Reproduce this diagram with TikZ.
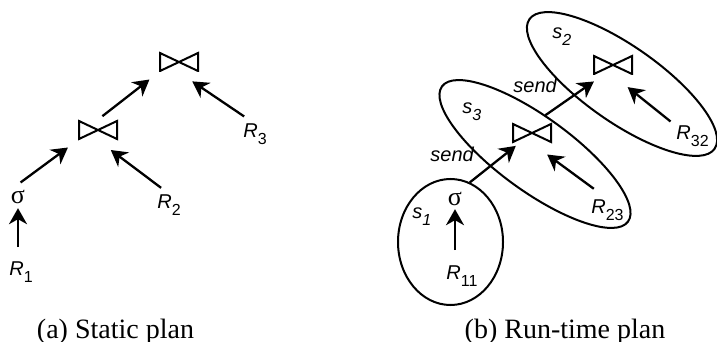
\documentclass[tikz,border=0pt]{standalone}
\usepackage{fontspec}
\setmainfont{Liberation Serif}
\newfontfamily\arialfont{Liberation Sans}
\usetikzlibrary{arrows.meta,shapes.geometric}

\newcommand{\rel}[1]{\textit{R}\raisebox{-3.5pt}{\footnotesize#1}}
\newcommand{\site}[1]{\textit{s}\raisebox{-3.5pt}{\footnotesize\itshape#1}}

\begin{document}
\begin{tikzpicture}[x=0.5pt,y=-0.5pt,
  lab/.style={font=\arialfont\fontsize{10}{12}\selectfont,inner sep=0,anchor=base west},
  sel/.style={font=\fontsize{13}{15}\selectfont,inner sep=0},
  subcap/.style={font=\fontsize{14}{16}\selectfont,inner sep=0,anchor=base},
  bowtie/.style={minimum width=20pt,minimum height=10pt,inner sep=0,
    path picture={\draw[line width=1pt]
      ([shift={(0.5pt,-0.5pt)}]path picture bounding box.north west)
      -- ([shift={(-0.5pt,0.5pt)}]path picture bounding box.south east)
      -- ([shift={(-0.5pt,-0.5pt)}]path picture bounding box.north east)
      -- ([shift={(0.5pt,0.5pt)}]path picture bounding box.south west) -- cycle;}},
  region/.style={draw,ellipse,line width=1pt,inner sep=0},
  arr/.style={-{Stealth[length=8pt,width=9pt,inset=2.5pt]},line width=1.15pt}]
\useasboundingbox (0,0) rectangle (717,342);

% (a) static plan
\node[bowtie] (j2) at (179,62) {};
\node[bowtie] (j1) at (98,130) {};
\node[sel] (sig1) at (18,197) {σ};
\node[lab] (R1) at (9,275) {\rel{1}};
\node[lab] (R2) at (157,208) {\rel{2}};
\node[lab] (R3) at (243,138) {\rel{3}};
\draw[arr,shorten <=6.8pt,shorten >=2pt] (R1.north -| sig1.south) -- (sig1.south);
\draw[arr,shorten <=6.2pt,shorten >=6pt] (sig1.north west) -- (j1.south west);
\draw[arr,shorten <=5pt,shorten >=8pt] (R2.north) -- (j1.south);
\draw[arr,shorten <=2.8pt,shorten >=5.8pt] (j1.north) -- (j2.south west);
\draw[arr,shorten <=6.6pt,shorten >=8pt] (R3.north) -- (j2.south);
\node[subcap] (capa) at (115.5,338) {(a) Static plan};

% (b) run-time plan
\node[region,minimum width=52.5pt,minimum height=63pt] (s1box) at (450.5,242) {};
\node[region,rotate=-36,minimum width=115pt,minimum height=37pt] (s3box) at (535,154) {};
\node[region,rotate=-35,minimum width=113pt,minimum height=38pt] (s2box) at (622,84) {};
\node[bowtie] (J2) at (613,65) {};
\node[bowtie] (J1) at (532,133) {};
\node[sel] (sig2) at (455,199) {σ};
\node[lab] (R11) at (446,279) {\rel{11}};
\node[lab] (R23) at (591,213) {\rel{23}};
\node[lab] (R32) at (676,140) {\rel{32}};
\node[lab] (s1) at (412,218) {\site{1}};
\node[lab] (s3) at (462,113) {\site{3}};
\node[lab] (s2) at (552,39) {\site{2}};
\node[lab] (send1) at (430,162) {\textit{send}};
\node[lab] (send2) at (513,93) {\textit{send}};
\draw[arr,shorten <=7.3pt,shorten >=1.5pt] (R11.north -| sig2.south) -- (sig2.south);
\draw[arr,shorten >=2pt] (s1box.72) -- (J1);
\draw[arr,shorten <=6.4pt,shorten >=5.3pt] (J1.75) -- (J2.-135);
\draw[arr,shorten <=8.5pt,shorten >=9.4pt] (R23.north) -- (J1.south);
\draw[arr,shorten <=3.5pt,shorten >=9.4pt] (R32.north west) -- (J2.south);
\node[subcap] (capb) at (565,338) {(b) Run-time plan};
\end{tikzpicture}
\end{document}
